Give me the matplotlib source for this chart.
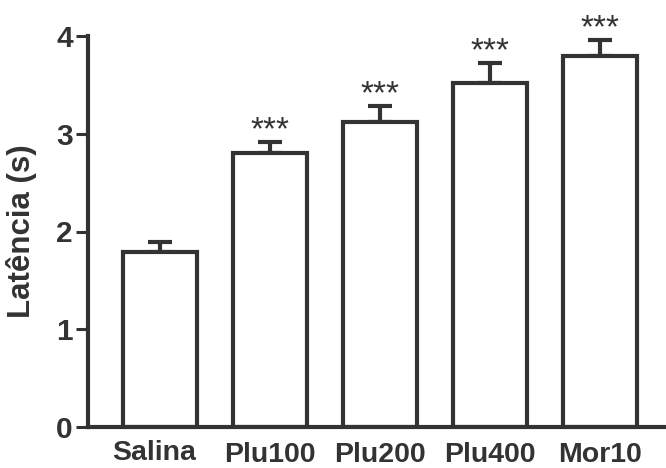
import numpy as np
import matplotlib.pyplot as plt
import matplotlib.transforms as mtransforms

# group means and SEM
groups = ['Salina', 'Plu100', 'Plu200', 'Plu400', 'Mor10']
latency = [1.79, 2.80, 3.12, 3.52, 3.80]
sem = [0.10, 0.12, 0.16, 0.20, 0.16]
signif = ['', '***', '***', '***', '***']

ink = '#333333'
plt.rcParams['font.family'] = ['Liberation Sans', 'DejaVu Sans']

fig = plt.figure(figsize=(6.66, 4.68), dpi=100)
ax = fig.add_axes([88 / 666, 41 / 468, 578 / 666, 391 / 468])

x = np.arange(len(groups))
ax.bar(x, latency, width=0.675, color='white', edgecolor=ink, linewidth=3.0, zorder=2)
# only the upper half of the error bar is shown
ax.errorbar(x, latency, yerr=[np.zeros(len(sem)), sem], fmt='none', ecolor=ink,
            elinewidth=3.0, capsize=8.5, capthick=3.0, zorder=1, clip_on=False)

for xi, yi, ei, s in zip(x, latency, sem, signif):
    if s:
        ax.annotate(s, (xi, yi + ei), xytext=(0, 2), textcoords='offset points',
                    ha='center', va='baseline', fontsize=24, color=ink,
                    annotation_clip=False)

ax.set_xlim(-0.655, 4.6)
ax.set_ylim(0, 4)
ax.set_yticks([0, 1, 2, 3, 4])
ax.set_xticks(x)
ax.set_xticklabels(groups, fontsize=20.5, fontweight='bold', color=ink)
ax.tick_params(axis='x', length=0, pad=11)
ax.tick_params(axis='y', length=9, width=2.2, color=ink, labelsize=21.5, labelcolor=ink, pad=2)
for lab in ax.get_yticklabels():
    lab.set_fontweight('bold')

# the first category label sits a bit higher and further left in the original
lab0 = ax.get_xticklabels()[0]
lab0.set_transform(lab0.get_transform() + mtransforms.ScaledTranslation(-6 / 100, 2 / 100, fig.dpi_scale_trans))

ax.set_ylabel('Latência (s)', fontsize=22.5, fontweight='bold', color=ink, labelpad=14)

for side in ['top', 'right']:
    ax.spines[side].set_visible(False)
for side in ['left', 'bottom']:
    ax.spines[side].set_linewidth(3.0)
    ax.spines[side].set_color(ink)

fig.savefig('out.png', dpi=100)
